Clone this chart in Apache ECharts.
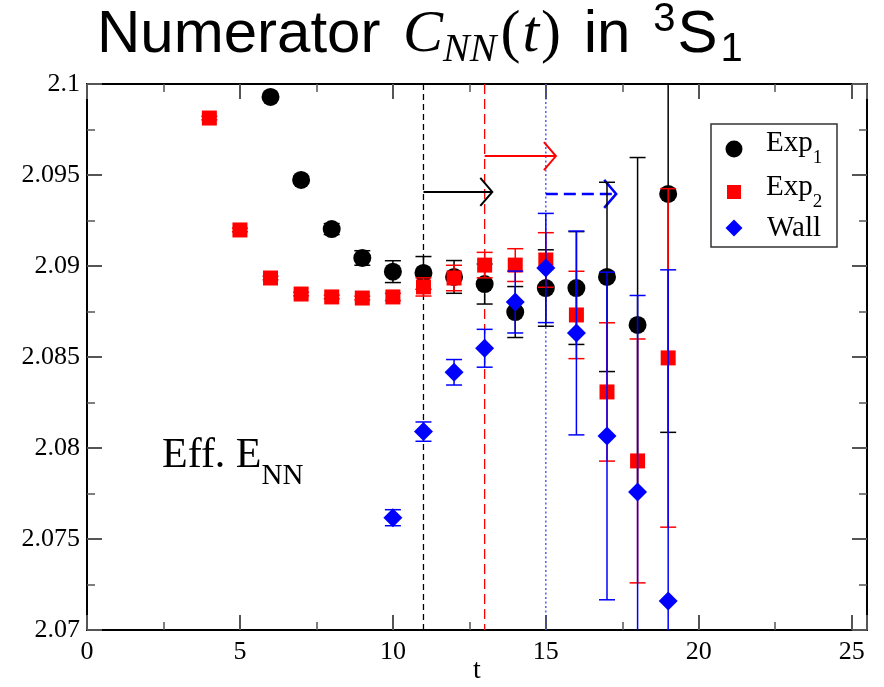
<!DOCTYPE html>
<html><head><meta charset="utf-8">
<script src="https://cdn.jsdelivr.net/npm/echarts@6/dist/echarts.min.js"></script>
<style>html,body{margin:0;padding:0;background:#fff}#c{width:884px;height:687px}</style>
</head><body><div id="c"></div>
<script>
// ---- data ----
const tExp1 = [6,7,8,9,10,11,12,13,14,15,16,17,18,19];
const exp1 = [2.09929,2.09473,2.09203,2.09044,2.08969,2.08962,2.0894,2.08901,2.08747,2.08879,2.08879,2.0894,2.08676,2.09396];
const exp1Err = [0.0001,0.0002,0.0003,0.0004,0.0006,0.0009,0.0009,0.0011,0.0014,0.0021,0.0031,0.0052,0.0092,0.0131];

const tExp2 = [4,5,6,7,8,9,10,11,12,13,14,15,16,17,18,19];
const exp2 = [2.09813,2.09198,2.08934,2.08846,2.0883,2.08824,2.0883,2.08885,2.08934,2.09005,2.09005,2.09033,2.08731,2.08308,2.07929,2.08495];
const exp2Err = [0.0001,0.0001,0.0001,0.0001,0.0001,0.0001,0.0002,0.0005,0.0007,0.0007,0.0009,0.0015,0.0024,0.0038,0.0067,0.0093];

const tWall = [10,11,12,13,14,15,16,17,18,19];
const wall = [2.07617,2.0809,2.08416,2.08548,2.08802,2.08989,2.08632,2.08066,2.07758,2.07159];
const wallErr = [0.00044,0.00053,0.0007,0.00104,0.0017,0.003,0.0056,0.009,0.0108,0.0182];

const vlineT = [11, 13, 15];
const arrowStart = [11, 13, 15];
const arrowEnd = [13.25, 15.33, 17.3];
const arrowY = [2.09407, 2.09604, 2.09396];

const xTicks = [0,5,10,15,20,25];
const yTicks = [2.07,2.075,2.08,2.085,2.09,2.095,2.1];
const xName = 't';

// ---- helpers ----
const SERIF = '"Liberation Serif", "DejaVu Serif", serif';
const SANS = '"Liberation Sans", "DejaVu Sans", sans-serif';
const mctx = document.createElement('canvas').getContext('2d');
function tw(text, font){ mctx.font = font; return mctx.measureText(text).width; }

function errSeries(ts, ys, es, color, z){
  return {
    type:'custom', clip:true, z:z, silent:true,
    data: ts.map((t,i)=>[t, ys[i], es[i]]),
    encode:{x:0, y:1},
    renderItem(params, api){
      const t=api.value(0), y=api.value(1), e=api.value(2);
      const p1=api.coord([t,y+e]), p2=api.coord([t,y-e]);
      const hw=8, st={stroke:color, lineWidth:1.5, fill:null};
      return {type:'group', children:[
        {type:'line', shape:{x1:p1[0],y1:p1[1],x2:p2[0],y2:p2[1]}, style:st},
        {type:'line', shape:{x1:p1[0]-hw,y1:p1[1],x2:p1[0]+hw,y2:p1[1]}, style:st},
        {type:'line', shape:{x1:p2[0]-hw,y1:p2[1],x2:p2[0]+hw,y2:p2[1]}, style:st}
      ]};
    }
  };
}
function markSeries(ts, ys, symbol, size, color, z){
  return {type:'scatter', z:z, silent:true, symbol:symbol, symbolSize:size,
    itemStyle:{color:color, opacity:1}, data: ts.map((t,i)=>[t, ys[i]]), clip:true};
}
const vStyles = [
  {stroke:'#000', lineWidth:1.3, lineDash:[6,4], fill:null},
  {stroke:'#ff0000', lineWidth:1.3, lineDash:[10,5], fill:null},
  {stroke:'#4040ff', lineWidth:1.3, lineDash:[2,2.5], fill:null}
];
const aStyles = [
  {stroke:'#000', lineWidth:2, fill:null},
  {stroke:'#ff0000', lineWidth:2, fill:null},
  {stroke:'#0000ff', lineWidth:2.5, lineDash:[12,6], fill:null}
];

// ---- text layout helpers ----
function piecesToGraphic(pieces, startX, baseY, color){
  let x = startX; const els=[];
  pieces.forEach(p=>{
    const w = tw(p.text, p.font);
    els.push({type:'text', silent:true, style:{text:p.text, x:x, y: baseY + (p.dy||0) - 0.34*p.size, font:p.font, fill:color||'#000', verticalAlign:'middle', align:'left'}});
    x += w + (p.gap||0);
  });
  return els;
}

const TS = 60, TSS = 40;
const titlePieces = [
  {text:'Numerator ', size:TS, font:`${TS}px ${SANS}`, gap:6},
  {text:'C', size:TS, font:`italic ${TS}px ${SERIF}`},
  {text:'NN', size:TSS, font:`italic ${TSS}px ${SERIF}`, dy:8, gap:4},
  {text:'(', size:TS, font:`${TS}px ${SERIF}`, gap:2},
  {text:'t', size:TS, font:`italic ${TS}px ${SERIF}`, gap:2},
  {text:')', size:TS, font:`${TS}px ${SERIF}`, gap:6},
  {text:' in ', size:TS, font:`${TS}px ${SANS}`, gap:6},
  {text:'3', size:TSS, font:`${TSS}px ${SANS}`, dy:-22, gap:2},
  {text:'S', size:TS, font:`${TS}px ${SANS}`, gap:3},
  {text:'1', size:TSS, font:`${TSS}px ${SANS}`, dy:8}
];
const titleEls = piecesToGraphic(titlePieces, 97, 56);

const effPieces = [
  {text:'Eff. E', size:42, font:`42px ${SERIF}`},
  {text:'NN', size:29, font:`29px ${SERIF}`, dy:16}
];
const effEls = piecesToGraphic(effPieces, 162, 470);

const xNameEl = {type:'text', silent:true, style:{text:xName, x:477, y:671, font:`28px ${SERIF}`, fill:'#000', align:'center', verticalAlign:'middle'}};

const legendFont = `29px ${SERIF}`, legendSub = `19px ${SERIF}`;
const legendEls = [
  {type:'rect', silent:true, shape:{x:711, y:124, width:126, height:123}, style:{fill:'#fff', stroke:'#333', lineWidth:1.5}},
  {type:'circle', silent:true, shape:{cx:734, cy:149, r:8.5}, style:{fill:'#000'}},
  {type:'rect', silent:true, shape:{x:727, y:185, width:14, height:14}, style:{fill:'#ff0000'}},
  {type:'polygon', silent:true, shape:{points:[[734,219.5],[742.5,228],[734,236.5],[725.5,228]]}, style:{fill:'#0000ff'}},
  ...piecesToGraphic([{text:'Exp', size:29, font:legendFont},{text:'1', size:19, font:legendSub, dy:11}], 766, 153),
  ...piecesToGraphic([{text:'Exp', size:29, font:legendFont},{text:'2', size:19, font:legendSub, dy:11}], 766, 197),
  ...piecesToGraphic([{text:'Wall', size:29, font:legendFont}], 767, 238)
];

const axisLabelStyle = {color:'#000', fontFamily:SERIF, fontSize:26};
function xAxisCfg(pos, showLabel){
  return {type:'value', min:0, max:25.5, interval:5, position:pos,
    axisLine:{show:true, onZero:false, lineStyle:{color:'#000', width:2}},
    axisTick:{show:true, inside:true, length:15, lineStyle:{color:'#555', width:2}},
    minorTick:{show:true, splitNumber:2, length:8, lineStyle:{color:'#555', width:1.5}},
    splitLine:{show:false},
    axisLabel:{show:showLabel, margin:9, ...axisLabelStyle,
      formatter:v=> xTicks.some(k=>Math.abs(k-v)<1e-9) ? String(v) : ''}
  };
}
function yAxisCfg(pos, showLabel){
  return {type:'value', min:2.07, max:2.1, interval:0.005, position:pos,
    axisLine:{show:true, onZero:false, lineStyle:{color:'#000', width:2}},
    axisTick:{show:true, inside:true, length:15, lineStyle:{color:'#555', width:2}},
    minorTick:{show:true, splitNumber:2, length:8, lineStyle:{color:'#555', width:1.5}},
    splitLine:{show:false},
    axisLabel:{show:showLabel, margin:7, ...axisLabelStyle,
      formatter:v=>{ const k=yTicks.find(k=>Math.abs(k-v)<1e-9); return k===undefined?'':String(k); }}
  };
}

const option = {
  backgroundColor:'#fff',
  animation:false,
  grid:{left:87, right:17, top:84, bottom:57, containLabel:false, outerBoundsMode:'none'},
  xAxis:[xAxisCfg('bottom', true), xAxisCfg('top', false)],
  yAxis:[yAxisCfg('left', true), yAxisCfg('right', false)],
  graphic: [...titleEls, ...effEls, xNameEl, ...legendEls],
  series:[
    {type:'custom', z:1, silent:true, data: vlineT.map(t=>[t]), encode:{x:0},
      renderItem(params, api){
        const t=api.value(0); const x=api.coord([t, 2.08])[0];
        const cs=params.coordSys;
        return {type:'line', shape:{x1:x, y1:cs.y, x2:x, y2:cs.y+cs.height}, style:vStyles[params.dataIndex]};
      }},
    {type:'custom', z:1, silent:true, data: arrowStart.map((s,i)=>[s, arrowEnd[i], arrowY[i]]), encode:{x:[0,1], y:2},
      renderItem(params, api){
        const p1=api.coord([api.value(0), api.value(2)]), p2=api.coord([api.value(1), api.value(2)]);
        const st=aStyles[params.dataIndex];
        const head={stroke:st.stroke, lineWidth:st.lineWidth, fill:null};
        return {type:'group', children:[
          {type:'line', shape:{x1:p1[0], y1:p1[1], x2:p2[0]-1, y2:p2[1]}, style:st},
          {type:'polyline', shape:{points:[[p2[0]-12,p2[1]-14],[p2[0],p2[1]],[p2[0]-12,p2[1]+14]]}, style:head}
        ]};
      }},
    errSeries(tExp1, exp1, exp1Err, '#000', 2),
    markSeries(tExp1, exp1, 'circle', 18, '#000', 2),
    errSeries(tExp2, exp2, exp2Err, '#ff0000', 3),
    markSeries(tExp2, exp2, 'rect', 15, '#ff0000', 3),
    errSeries(tWall, wall, wallErr, '#0000ff', 4),
    markSeries(tWall, wall, 'diamond', 19, '#0000ff', 4)
  ]
};
const chart = echarts.init(document.getElementById('c'), null, {renderer:'canvas'});
chart.setOption(option);
</script>
</body></html>
